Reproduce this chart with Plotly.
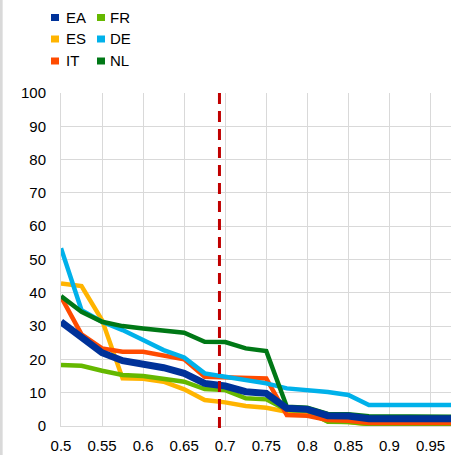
import plotly.graph_objects as go

x_vals = [0.5, 0.525, 0.55, 0.575, 0.6, 0.625, 0.65, 0.675, 0.7, 0.725,
          0.75, 0.775, 0.8, 0.825, 0.85, 0.875, 0.9, 0.925, 0.95, 0.975]

EA = [31.3, 26.8, 22.0, 19.6, 18.8, 17.5, 15.8, 12.8, 12.0, 10.3, 9.8, 5.3, 5.0, 3.1, 3.0, 2.2, 2.2, 2.2, 2.2, 2.2]
FR = [18.3, 18.1, 16.6, 15.3, 15.0, 14.0, 13.3, 11.1, 10.8, 8.3, 8.0, 4.8, 4.6, 1.3, 1.2, 0.6, 0.5, 0.5, 0.5, 0.5]
ES = [42.8, 42.0, 31.8, 14.3, 14.2, 13.3, 11.0, 7.8, 7.1, 6.0, 5.5, 4.3, 4.0, 1.4, 1.2, 0.5, 0.4, 0.4, 0.4, 0.4]
IT = [38.8, 27.5, 23.3, 22.3, 22.3, 21.0, 20.0, 14.8, 14.6, 14.5, 14.3, 3.3, 3.1, 1.8, 1.6, 0.9, 0.9, 0.9, 0.9, 0.9]
DE = [53.4, 34.8, 31.3, 28.8, 25.8, 22.8, 20.6, 15.8, 14.8, 13.8, 12.8, 11.3, 10.8, 10.2, 9.3, 6.3, 6.3, 6.3, 6.3, 6.3]
NL = [39.0, 34.3, 31.3, 30.0, 29.3, 28.8, 28.0, 25.3, 25.2, 23.3, 22.5, 5.8, 5.5, 3.6, 3.5, 2.9, 2.8, 2.8, 2.8, 2.8]

threshold = 0.693

x_ticks = [0.5, 0.55, 0.6, 0.65, 0.7, 0.75, 0.8, 0.85, 0.9, 0.95]
x_tick_labels = ["0.5", "0.55", "0.6", "0.65", "0.7", "0.75", "0.8", "0.85", "0.9", "0.95"]
y_ticks = [0, 10, 20, 30, 40, 50, 60, 70, 80, 90, 100]

series = {"EA": EA, "FR": FR, "ES": ES, "DE": DE, "IT": IT, "NL": NL}
colors = {"EA": "#003299", "FR": "#65b800", "ES": "#ffb400",
          "DE": "#00b1ea", "IT": "#ff4b00", "NL": "#007816"}
widths = {"EA": 7, "FR": 4.5, "ES": 4.5, "DE": 4.5, "IT": 4.5, "NL": 4.5}
draw_order = ["ES", "FR", "IT", "DE", "NL", "EA"]
legend_layout = [["EA", "FR"], ["ES", "DE"], ["IT", "NL"]]

FONT = "Liberation Sans, Arial, sans-serif"

fig = go.Figure()
for name in draw_order:
    fig.add_trace(go.Scatter(
        x=x_vals, y=series[name], mode="lines", name=name,
        line=dict(color=colors[name], width=widths[name]),
        showlegend=False,
    ))

# threshold dashed line
fig.add_shape(type="line", xref="x", yref="paper", x0=threshold, x1=threshold,
              y0=-0.006, y1=1.01, line=dict(color="#c00000", width=3, dash="11px,7px"))

# manual legend (2 columns x 3 rows)
W, H = 390.0, 333.0
L, T = 61.0, 93.0
def px_to_paper(px, py):
    return (px - L) / W, 1 - (py - T) / H

row_y = [17.5, 39.0, 61.0]
sq_left = [51, 97]
txt_left = [64, 108]
for r, row in enumerate(legend_layout):
    for c, name in enumerate(row):
        x0, y0 = px_to_paper(sq_left[c], row_y[r] - 3.5)
        x1, y1 = px_to_paper(sq_left[c] + 8, row_y[r] + 3.5)
        fig.add_shape(type="rect", xref="paper", yref="paper",
                      x0=x0, x1=x1, y0=y1, y1=y0,
                      fillcolor=colors[name], line=dict(width=0))
        tx, ty = px_to_paper(txt_left[c], row_y[r])
        fig.add_annotation(xref="paper", yref="paper", x=tx, y=ty,
                           text=name, showarrow=False, xanchor="left", yanchor="middle",
                           font=dict(family=FONT, size=15, color="#000000"))

# left border of chart box
bx, _ = px_to_paper(1.3, 0)
fig.add_shape(type="line", xref="paper", yref="paper", x0=bx, x1=bx,
              y0=-29 / H, y1=1 + T / H, line=dict(color="#d9d9d9", width=2.7))

fig.update_layout(
    width=451, height=455,
    margin=dict(l=61, r=0, t=93, b=29),
    paper_bgcolor="white", plot_bgcolor="white",
    font=dict(family=FONT, size=15, color="#000000"),
    showlegend=False,
)
fig.update_xaxes(
    range=[0.5, 0.975], tickvals=x_ticks, ticktext=x_tick_labels,
    showgrid=True, gridcolor="#d9d9d9", gridwidth=1,
    zeroline=False, showline=True, linecolor="#d9d9d9", linewidth=1,
    ticks="", ticklabelstandoff=6, automargin=False,
    tickfont=dict(family=FONT, size=15, color="#000000"),
)
fig.update_yaxes(
    range=[0, 100], tickvals=y_ticks,
    showgrid=True, gridcolor="#d9d9d9", gridwidth=1,
    zeroline=False, showline=True, linecolor="#d9d9d9", linewidth=1,
    ticks="", ticklabelstandoff=11, automargin=False,
    tickfont=dict(family=FONT, size=15, color="#000000"),
)

fig.write_html("out.html", config={"displayModeBar": False},
               post_script="document.body.style.margin='0';document.body.style.overflow='hidden';")
